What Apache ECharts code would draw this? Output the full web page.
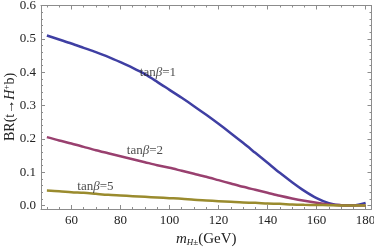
<!DOCTYPE html>
<html><head><meta charset="utf-8">
<script src="https://cdn.jsdelivr.net/npm/echarts@6/dist/echarts.min.js"></script>
<style>html,body{margin:0;padding:0;background:#fff}#c{width:374px;height:248px}</style>
</head><body><div id="c"></div>
<script>
const mass = [50,55,60,65,70,75,80,85,90,95,100,105,110,115,120,125,130,135,140,145,150,155,160,165,170,175,180];
const brTan1 = [0.510,0.498,0.486,0.473,0.460,0.446,0.430,0.413,0.394,0.371,0.347,0.323,0.298,0.272,0.245,0.217,0.188,0.158,0.128,0.098,0.070,0.044,0.022,0.007,0.001,0.001,0.008];
const brTan2 = [0.205,0.195,0.186,0.176,0.166,0.157,0.148,0.139,0.130,0.121,0.113,0.104,0.095,0.086,0.076,0.066,0.056,0.047,0.038,0.029,0.021,0.014,0.008,0.003,0.001,0.000,0.000];
const brTan5 = [0.045,0.043,0.040,0.038,0.035,0.032,0.030,0.028,0.026,0.024,0.022,0.020,0.017,0.015,0.013,0.011,0.009,0.008,0.006,0.005,0.003,0.002,0.0015,0.001,0.000,0.000,0.000];
const xMajorTicks = [60,80,100,120,140,160,180];
const xMinorTicks = [50,55,65,70,75,85,90,95,105,110,115,125,130,135,145,150,155,165,170,175];
const yMajorTicks = [0,0.1,0.2,0.3,0.4,0.5,0.6];
const yMinorTicks = [0.02,0.04,0.06,0.08,0.12,0.14,0.16,0.18,0.22,0.24,0.26,0.28,0.32,0.34,0.36,0.38,0.42,0.44,0.46,0.48,0.52,0.54,0.56,0.58];
const labelText = ['1','2','5'];
const labelX = [95.3, 90, 69.8];
const labelY = [0.40, 0.166, 0.058];
const yTitle = '{n|BR(t→}{i|H}{sup|+}{n|b)}';
const xTitle = '{i|m}{sub|H±}{n|(GeV)}';

const FONT = '"Liberation Serif", "DejaVu Serif", serif';
const frame = '#8c8c8c';
const xr = {min:47.6, max:182.4};
const yr = {min:-0.0105, max:0.6};

function xAx(pos, values, len, labels, line) {
  return {type:'value', position:pos, min:xr.min, max:xr.max,
    axisLine:{show:line, onZero:false, lineStyle:{color:frame, width:1}},
    axisTick:{show:true, inside:true, length:len, customValues:values, lineStyle:{color:frame}},
    axisLabel:{show:labels, customValues:values, color:'#222', fontFamily:FONT, fontSize:13, margin:5},
    splitLine:{show:false}};
}
function yAx(pos, values, len, labels, line) {
  return {type:'value', position:pos, min:yr.min, max:yr.max,
    axisLine:{show:line, onZero:false, lineStyle:{color:frame, width:1}},
    axisTick:{show:true, inside:true, length:len, customValues:values, lineStyle:{color:frame}},
    axisLabel:{show:labels, customValues:values, color:'#222', fontFamily:FONT, fontSize:13, margin:5,
      formatter:v=>Number(v).toFixed(1)},
    splitLine:{show:false}};
}
const xa = [xAx('bottom', xMajorTicks, 4, true, true), xAx('bottom', xMinorTicks, 2, false, false),
            xAx('top', xMajorTicks, 4, false, true), xAx('top', xMinorTicks, 2, false, false)];
const ya = [yAx('left', yMajorTicks, 4, true, true), yAx('left', yMinorTicks, 2, false, false),
            yAx('right', yMajorTicks, 4, false, true), yAx('right', yMinorTicks, 2, false, false)];
xa[0].name = xTitle;
xa[0].nameLocation = 'middle';
xa[0].nameGap = 21;
xa[0].nameTextStyle = {fontFamily:FONT, color:'#222', rich:{
  i:{fontFamily:FONT, fontStyle:'italic', fontSize:15, color:'#222'},
  sub:{fontFamily:FONT, fontStyle:'italic', fontSize:9, color:'#222', padding:[7,0,0,0]},
  n:{fontFamily:FONT, fontSize:15, color:'#222'}}};

function line(vals, color) {
  return {type:'line', xAxisIndex:0, yAxisIndex:0, data:mass.map((m,i)=>[m, vals[i]]),
    smooth:0.3, showSymbol:false, lineStyle:{color:color, width:2.5}, silent:true, z:3};
}
const chart = echarts.init(document.getElementById('c'), null, {renderer:'canvas'});
chart.setOption({
  animation:false,
  backgroundColor:'#fff',
  grid:{left:41, right:2.5, top:5.5, bottom:39, containLabel:false, outerBoundsMode:'none'},
  xAxis:xa, yAxis:ya,
  graphic:[{type:'text', x:10, y:107, rotation:Math.PI/2, silent:true,
    style:{text:yTitle, align:'center', verticalAlign:'middle', fill:'#222', font:'14px '+FONT,
      rich:{
        i:{fontFamily:FONT, fontStyle:'italic', fontSize:14, fill:'#222'},
        sup:{fontFamily:FONT, fontSize:9, fill:'#222', padding:[0,0,7,0]},
        n:{fontFamily:FONT, fontSize:14, fill:'#222'}}}}],
  series:[
    line(brTan1, '#3f3fa3'),
    line(brTan2, '#99406f'),
    line(brTan5, '#9a8b2e'),
    {type:'scatter', xAxisIndex:0, yAxisIndex:0, symbolSize:0, silent:true, z:5,
      data:labelText.map((t,i)=>({value:[labelX[i], labelY[i]], name:t})),
      label:{show:true, position:'inside', formatter:p=>'{n|tan}{b|β}{n|='+p.name+'}',
        rich:{n:{fontFamily:FONT, fontSize:13, color:'#222'},
              b:{fontFamily:FONT, fontSize:13, fontStyle:'italic', color:'#222'}}}}
  ]
});
</script></body></html>
